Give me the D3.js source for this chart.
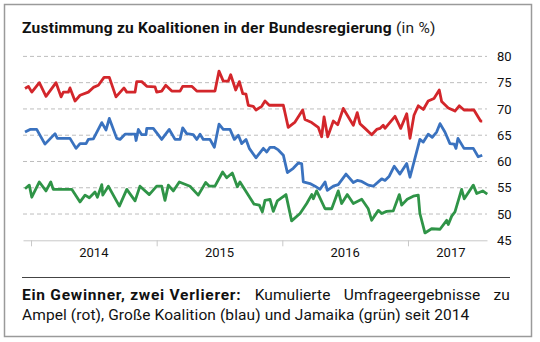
<!DOCTYPE html>
<html lang="de">
<head>
<meta charset="UTF-8">
<title>Zustimmung zu Koalitionen</title>
<script src="https://cdn.jsdelivr.net/npm/d3@7/dist/d3.min.js"></script>
<style>
    body { margin: 0; background: #fff; }
    text { font-family: Roboto, "Open Sans", sans-serif; }
</style>
</head>
<body>
<script>

    // Zeitpunkte als Dezimaljahr, Werte in %
    const redT = [2013.952, 2013.979, 2014.006, 2014.066, 2014.119, 2014.199, 2014.239, 2014.257, 2014.297, 2014.310,
        2014.350, 2014.390, 2014.456, 2014.496, 2014.536, 2014.581, 2014.623, 2014.676, 2014.740, 2014.762,
        2014.828, 2014.841, 2014.881, 2014.921, 2014.987, 2015.000, 2015.040, 2015.072, 2015.120, 2015.186,
        2015.207, 2015.279, 2015.319, 2015.464, 2015.496, 2015.530, 2015.570, 2015.589, 2015.629, 2015.658,
        2015.685, 2015.711, 2015.729, 2015.769, 2015.790, 2015.836, 2015.862, 2015.896, 2016.008, 2016.047,
        2016.101, 2016.162, 2016.180, 2016.234, 2016.286, 2016.313, 2016.332, 2016.361, 2016.406, 2016.441,
        2016.485, 2016.565, 2016.596, 2016.618, 2016.658, 2016.711, 2016.751, 2016.777, 2016.803, 2016.817,
        2016.897, 2016.942, 2016.990, 2017.016, 2017.048, 2017.082, 2017.122, 2017.161, 2017.207, 2017.249,
        2017.268, 2017.321, 2017.374, 2017.408, 2017.446, 2017.525, 2017.578, 2017.591];
    const redV = [73.9, 74.3, 73.2, 75.0, 72.4, 75.0, 72.3, 73.2, 73.2, 74.0,
        71.5, 72.6, 73.2, 74.1, 74.5, 76.0, 76.0, 72.3, 74.0, 73.2,
        73.2, 75.2, 75.2, 74.3, 74.2, 73.2, 73.4, 74.5, 73.4, 73.4,
        74.3, 74.3, 73.4, 73.4, 77.2, 75.3, 75.3, 76.5, 73.6, 75.2,
        72.9, 72.8, 70.7, 70.5, 69.8, 70.5, 71.5, 70.7, 70.7, 66.5,
        67.5, 69.8, 68.0, 67.4, 66.5, 64.7, 68.5, 64.7, 67.7, 67.0,
        70.1, 66.9, 69.3, 67.2, 66.3, 65.1, 66.1, 66.3, 66.9, 66.3,
        68.6, 66.3, 69.1, 64.4, 68.8, 70.6, 69.9, 71.5, 72.0, 73.6,
        71.4, 70.2, 69.6, 70.6, 69.8, 69.8, 67.7, 67.7];

    const blueT = [2013.952, 2013.992, 2014.045, 2014.111, 2014.191, 2014.209, 2014.310, 2014.358, 2014.390, 2014.438,
        2014.456, 2014.496, 2014.563, 2014.597, 2014.623, 2014.682, 2014.708, 2014.748, 2014.828, 2014.836,
        2014.854, 2014.881, 2014.915, 2014.921, 2014.973, 2015.040, 2015.100, 2015.146, 2015.186, 2015.207,
        2015.239, 2015.291, 2015.319, 2015.345, 2015.371, 2015.424, 2015.459, 2015.496, 2015.530, 2015.584,
        2015.618, 2015.650, 2015.677, 2015.711, 2015.737, 2015.790, 2015.849, 2015.876, 2015.902, 2015.934,
        2015.968, 2016.008, 2016.040, 2016.087, 2016.127, 2016.154, 2016.167, 2016.220, 2016.260, 2016.300,
        2016.340, 2016.358, 2016.406, 2016.445, 2016.507, 2016.565, 2016.596, 2016.632, 2016.684, 2016.724,
        2016.791, 2016.817, 2016.851, 2016.891, 2016.936, 2016.990, 2017.016, 2017.095, 2017.122, 2017.161,
        2017.193, 2017.228, 2017.255, 2017.294, 2017.334, 2017.368, 2017.382, 2017.398, 2017.446, 2017.520,
        2017.559, 2017.591];
    const blueV = [65.6, 66.1, 66.1, 63.3, 65.3, 64.4, 64.4, 62.5, 63.4, 63.4,
        64.2, 64.3, 67.4, 66.0, 68.2, 64.4, 64.2, 65.2, 65.2, 64.0,
        66.1, 65.1, 65.1, 66.3, 66.3, 64.2, 66.1, 64.2, 64.2, 66.4,
        65.3, 65.1, 64.2, 65.2, 64.2, 64.2, 62.7, 67.1, 66.1, 66.1,
        64.2, 65.0, 63.4, 64.2, 62.5, 60.7, 62.5, 61.8, 62.7, 62.7,
        62.2, 61.2, 57.9, 58.7, 59.7, 59.6, 56.1, 55.8, 55.3, 54.7,
        56.1, 54.5, 55.3, 55.6, 57.6, 56.0, 56.4, 56.2, 55.5, 55.3,
        56.7, 56.4, 57.2, 59.1, 57.6, 59.6, 57.0, 64.2, 63.7, 65.2,
        64.6, 65.6, 67.2, 65.6, 63.4, 63.3, 62.5, 64.4, 62.5, 62.5,
        60.9, 61.2];

    const greenT = [2013.952, 2013.986, 2014.006, 2014.066, 2014.119, 2014.157, 2014.177, 2014.324, 2014.390, 2014.430,
        2014.464, 2014.509, 2014.528, 2014.563, 2014.571, 2014.615, 2014.703, 2014.762, 2014.828, 2014.867,
        2014.941, 2015.000, 2015.040, 2015.066, 2015.093, 2015.132, 2015.180, 2015.265, 2015.331, 2015.390,
        2015.419, 2015.464, 2015.525, 2015.557, 2015.602, 2015.642, 2015.663, 2015.774, 2015.817, 2015.841,
        2015.862, 2015.902, 2015.928, 2015.960, 2016.029, 2016.074, 2016.141, 2016.194, 2016.234, 2016.247,
        2016.273, 2016.340, 2016.393, 2016.445, 2016.472, 2016.517, 2016.565, 2016.632, 2016.684, 2016.711,
        2016.764, 2016.791, 2016.830, 2016.883, 2016.931, 2016.950, 2016.994, 2017.042, 2017.082, 2017.095,
        2017.135, 2017.188, 2017.255, 2017.308, 2017.321, 2017.348, 2017.374, 2017.427, 2017.448, 2017.520,
        2017.547, 2017.595, 2017.631];
    const greenV = [54.8, 55.5, 53.2, 56.1, 54.4, 56.1, 54.7, 54.7, 52.3, 53.6,
        53.1, 54.2, 53.2, 55.6, 53.6, 55.3, 51.5, 54.7, 52.5, 55.3,
        53.7, 55.3, 55.3, 52.6, 55.5, 54.4, 56.1, 55.3, 53.6, 56.0,
        55.3, 55.3, 58.0, 56.9, 57.8, 55.2, 56.1, 51.9, 51.7, 50.4,
        52.6, 52.8, 50.5, 52.5, 53.7, 48.7, 50.1, 52.0, 53.7, 52.9,
        54.4, 51.0, 51.0, 54.4, 52.0, 53.7, 52.0, 52.8, 51.0, 48.8,
        50.7, 50.1, 50.5, 50.6, 53.7, 51.7, 52.8, 53.4, 53.6, 50.1,
        46.4, 47.2, 47.1, 48.8, 48.0, 49.6, 50.4, 54.7, 52.9, 55.5,
        53.9, 54.4, 53.8];

    const years = [2014, 2015, 2016, 2017];
    const yTicks = [45, 50, 55, 60, 65, 70, 75, 80];

    const series = [
        {name: "Ampel", t: redT, v: redV, color: "#d3262b"},
        {name: "Große Koalition", t: blueT, v: blueV, color: "#3a72bf"},
        {name: "Jamaika", t: greenT, v: greenV, color: "#2f9447"}
    ];

    const width = 540;
    const height = 342;
    const plotLeft = 23, plotRight = 487, plotTop = 56.4, plotBottom = 240.3;

    const x = d3.scaleLinear().domain([2013.936, 2017.629]).range([plotLeft, plotRight]);
    const y = d3.scaleLinear().domain([45, 80]).range([plotBottom, plotTop]);

    const svg = d3.select("body").append("svg")
        .attr("width", width)
        .attr("height", height);

    // Rahmen
    svg.append("rect")
        .attr("x", 4.5).attr("y", 4.5)
        .attr("width", 527).attr("height", 332)
        .attr("fill", "#fff")
        .attr("stroke", "#9a9a9a")
        .attr("stroke-width", 1.5);

    // Titel
    const title = svg.append("text")
        .attr("x", 22).attr("y", 33)
        .attr("font-size", 15.5)
        .attr("letter-spacing", 0.25)
        .attr("fill", "#111");
    title.append("tspan").attr("font-weight", "bold").text("Zustimmung zu Koalitionen in der Bundesregierung");
    title.append("tspan").attr("fill", "#222").text(" (in %)");

    // Gitterlinien
    svg.append("g")
        .selectAll("line")
        .data(yTicks.filter(d => d > 45))
        .join("line")
        .attr("x1", plotLeft).attr("x2", plotRight)
        .attr("y1", d => y(d)).attr("y2", d => y(d))
        .attr("stroke", "#bdbdbd")
        .attr("stroke-width", 1)
        .attr("stroke-dasharray", "4,3");

    // y-Achse rechts
    svg.append("g")
        .attr("transform", `translate(${plotRight + 10},0)`)
        .call(d3.axisRight(y).tickValues(yTicks).tickSize(0).tickPadding(0))
        .call(g => g.select(".domain").remove())
        .call(g => g.selectAll("text")
            .attr("font-family", "Roboto, sans-serif")
            .attr("font-size", 13)
            .attr("fill", "#111"));

    // x-Achse
    svg.append("g")
        .attr("transform", `translate(0,${plotBottom})`)
        .call(d3.axisBottom(x).tickValues(years).tickSize(6).tickSizeOuter(0).tickFormat(""))
        .call(g => g.select(".domain").attr("stroke", "#c8c8c8"))
        .call(g => g.selectAll(".tick line").attr("stroke", "#c8c8c8"));

    const domEnd = x.domain()[1] + 0.055;
    svg.append("g")
        .selectAll("text")
        .data(years)
        .join("text")
        .attr("x", d => (x(d) + x(Math.min(d + 1, domEnd))) / 2)
        .attr("y", plotBottom + 17)
        .attr("text-anchor", "middle")
        .attr("font-size", 13)
        .attr("fill", "#111")
        .text(d => d);

    // Linien
    const line = d3.line()
        .x(d => x(d[0]))
        .y(d => y(d[1]));

    svg.append("g")
        .attr("fill", "none")
        .attr("stroke-width", 2.8)
        .attr("stroke-linejoin", "round")
        .selectAll("path")
        .data(series)
        .join("path")
        .attr("stroke", d => d.color)
        .attr("d", d => line(d.t.map((t, i) => [t, d.v[i]])));

    // Trennlinie und Unterzeile
    svg.append("line")
        .attr("x1", 22).attr("x2", 510)
        .attr("y1", 277.5).attr("y2", 277.5)
        .attr("stroke", "#444")
        .attr("stroke-width", 1);

    const capLeft = 22, capRight = 510;
    const words1 = [
        {t: "Ein Gewinner, zwei Verlierer:", bold: true},
        {t: "Kumulierte", bold: false},
        {t: "Umfrageergebnisse", bold: false},
        {t: "zu", bold: false}
    ];
    const cap1 = svg.append("g").selectAll("text")
        .data(words1)
        .join("text")
        .attr("y", 300)
        .attr("font-size", 15.5)
        .attr("letter-spacing", d => d.bold ? 0.75 : 0.1)
        .attr("font-weight", d => d.bold ? "bold" : "normal")
        .attr("fill", "#111")
        .text(d => d.t);
    const widths = cap1.nodes().map(n => n.getComputedTextLength());
    const gap = (capRight - capLeft - d3.sum(widths)) / (words1.length - 1);
    let cx = capLeft;
    cap1.attr("x", (d, i) => {
        const p = cx;
        cx += widths[i] + gap;
        return p;
    });

    svg.append("text")
        .attr("x", capLeft).attr("y", 320)
        .attr("font-size", 15.5)
        .attr("letter-spacing", 0.1)
        .attr("fill", "#111")
        .text("Ampel (rot), Große Koalition (blau) und Jamaika (grün) seit 2014");

</script>
</body>
</html>
